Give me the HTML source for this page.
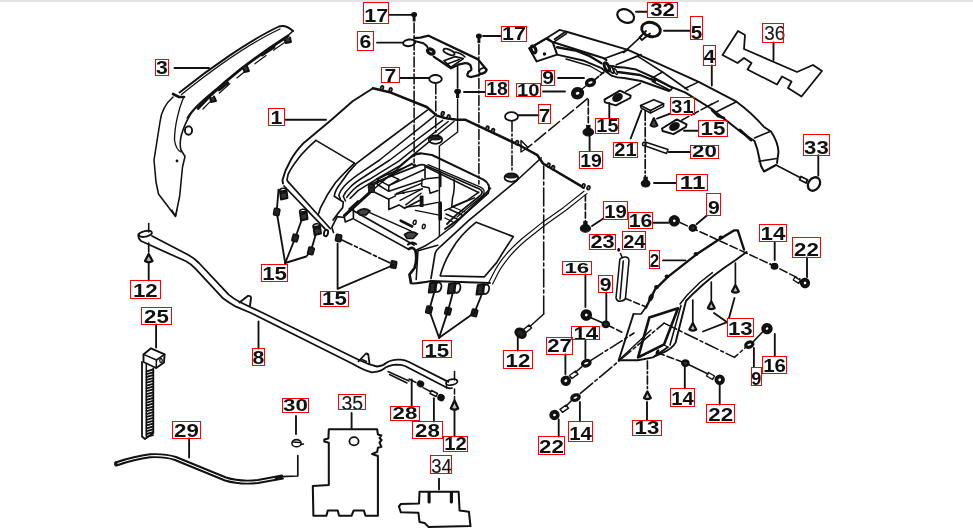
<!DOCTYPE html>
<html lang="en"><head><meta charset="utf-8"><title>Parts diagram</title>
<style>
html,body{margin:0;padding:0;background:#fff;}
body{width:973px;height:529px;overflow:hidden;position:relative;font-family:"Liberation Sans",sans-serif;}
#bar{position:absolute;left:0;top:0;width:973px;height:2px;background:#e4e4e4;}
svg{position:absolute;left:0;top:0;display:block;}
</style></head><body>
<div id="bar"></div>
<svg width="973" height="529" viewBox="0 0 973 529">
<g stroke="#111" fill="none" stroke-linecap="round" stroke-linejoin="round" style="filter:blur(0.45px)">
<path d="M174.5 68.0 L209.0 68.0" stroke-width="1.86" fill="none" />
<path d="M389.5 14.9 L412.0 14.9" stroke-width="1.86" fill="none" />
<path d="M377.0 42.6 L402.5 42.6" stroke-width="1.86" fill="none" />
<path d="M400.0 78.0 L429.0 78.0" stroke-width="1.86" fill="none" />
<path d="M285.5 119.8 L326.0 119.8" stroke-width="1.86" fill="none" />
<path d="M483.0 36.0 L501.0 36.0" stroke-width="1.86" fill="none" />
<path d="M464.0 92.0 L485.0 92.0" stroke-width="1.86" fill="none" />
<path d="M558.0 78.0 L584.0 78.0" stroke-width="1.86" fill="none" />
<path d="M543.0 91.5 L565.0 91.5" stroke-width="1.86" fill="none" />
<path d="M664.0 30.7 L690.0 30.7" stroke-width="1.86" fill="none" />
<path d="M711.8 65.5 L711.8 85.5" stroke-width="1.86" fill="none" />
<path d="M636.0 11.7 L647.0 11.7" stroke-width="1.86" fill="none" />
<path d="M773.5 42.4 L773.5 60.0" stroke-width="1.86" fill="none" />
<path d="M518.5 115.3 L538.5 115.3" stroke-width="1.86" fill="none" />
<path d="M609.3 103.0 L609.3 118.6" stroke-width="1.86" fill="none" />
<path d="M630.7 138.5 L641.4 110.4" stroke-width="1.86" fill="none" />
<path d="M657.0 118.6 L670.2 113.7" stroke-width="1.86" fill="none" />
<path d="M684.0 130.8 L698.0 130.8" stroke-width="1.86" fill="none" />
<path d="M668.6 152.0 L690.0 152.0" stroke-width="1.86" fill="none" />
<path d="M589.6 136.0 L589.6 151.0" stroke-width="1.86" fill="none" />
<path d="M654.0 183.0 L676.0 183.0" stroke-width="1.86" fill="none" />
<path d="M818.3 155.2 L818.3 175.5" stroke-width="1.86" fill="none" />
<path d="M663.0 260.4 L685.5 260.4" stroke-width="1.86" fill="none" />
<path d="M653.5 222.8 L668.5 222.8" stroke-width="1.86" fill="none" />
<path d="M696.5 224.3 L706.8 215.5" stroke-width="1.86" fill="none" />
<path d="M592.0 226.0 L603.4 218.5" stroke-width="1.86" fill="none" />
<path d="M774.7 242.0 L774.7 260.0" stroke-width="1.86" fill="none" />
<path d="M807.0 257.5 L807.0 277.0" stroke-width="1.86" fill="none" />
<path d="M148.7 262.0 L148.7 280.4" stroke-width="1.86" fill="none" />
<path d="M156.1 324.5 L156.1 347.6" stroke-width="1.86" fill="none" />
<path d="M258.5 321.4 L258.5 348.4" stroke-width="1.86" fill="none" />
<path d="M585.4 274.5 L585.4 307.0" stroke-width="1.86" fill="none" />
<path d="M606.3 292.5 L606.3 321.0" stroke-width="1.86" fill="none" />
<path d="M585.4 340.0 L585.4 358.5" stroke-width="1.86" fill="none" />
<path d="M565.4 354.4 L565.4 374.0" stroke-width="1.86" fill="none" />
<path d="M517.8 337.5 L517.8 350.5" stroke-width="1.86" fill="none" />
<path d="M684.8 366.7 L684.8 388.3" stroke-width="1.86" fill="none" />
<path d="M719.7 384.5 L719.7 404.5" stroke-width="1.86" fill="none" />
<path d="M753.9 348.0 L753.9 367.0" stroke-width="1.86" fill="none" />
<path d="M774.8 334.0 L774.8 356.3" stroke-width="1.86" fill="none" />
<path d="M189.1 438.5 L189.1 457.5" stroke-width="1.86" fill="none" />
<path d="M296.0 416.0 L296.0 434.0" stroke-width="1.86" fill="none" />
<path d="M351.6 413.0 L351.6 428.5" stroke-width="1.86" fill="none" />
<path d="M411.7 379.5 L411.7 406.5" stroke-width="1.86" fill="none" />
<path d="M433.9 398.3 L433.9 421.4" stroke-width="1.86" fill="none" />
<path d="M454.5 411.0 L454.5 436.2" stroke-width="1.86" fill="none" />
<path d="M439.0 478.7 L439.0 489.5" stroke-width="1.86" fill="none" />
<path d="M579.9 402.0 L579.9 421.3" stroke-width="1.86" fill="none" />
<path d="M558.7 419.5 L558.7 436.6" stroke-width="1.86" fill="none" />
<path d="M647.0 402.0 L647.0 420.3" stroke-width="1.86" fill="none" />
<path d="M714.0 313.0 L727.2 322.2" stroke-width="1.86" fill="none" />
<path d="M703.0 331.5 L727.2 322.2" stroke-width="1.86" fill="none" />
<path d="M734.5 298.0 L729.0 318.1" stroke-width="1.86" fill="none" />
<path d="M278.5 189.8 L276.7 212.0 L285.2 263.0" stroke-width="1.86" fill="none" />
<path d="M303.5 214.8 L295.2 238.0 L285.2 263.0" stroke-width="1.86" fill="none" />
<path d="M317.4 228.7 L310.9 250.9 L306.3 256.5 L285.2 263.0" stroke-width="1.86" fill="none" />
<path d="M179.5 92.5 C210 68 250 40 279 26.5 Q286 24.5 293 31" stroke-width="1.92" fill="none" />
<path d="M181.5 94.5 C212 70 251 42.5 280 29" stroke-width="1.32" fill="none" />
<path d="M293 31 L288 35.5" stroke-width="1.56" fill="none" />
<path d="M198 108.5 C215 89.5 245 63.5 288 36" stroke-width="2.76" fill="none" />
<path d="M203 109 C220 91 248 67 290 39" stroke-width="1.20" fill="none" stroke-dasharray="14 9"/>
<path d="M284.0 38.5 L286.0 43.0 L291.0 42.0 L290.0 37.5" stroke-width="1.92" fill="#333" />
<path d="M243.0 67.5 L244.5 72.0 L249.0 71.0 L247.0 66.0" stroke-width="1.92" fill="#333" />
<path d="M210.0 97.5 L211.0 102.0 L216.0 101.0 L214.0 96.5" stroke-width="1.92" fill="#333" />
<path d="M262.0 55.0 L274.0 47.0" stroke-width="2.88" fill="none" />
<path d="M219.0 90.0 L228.0 83.0" stroke-width="2.64" fill="none" />
<path d="M173.0 94.0 L179.0 97.0 L184.0 97.0" stroke-width="2.64" fill="none" />
<path d="M173 97 C165 104 161 113 160 122 L154 160 L156 182 L158.5 194 L175.5 216.5 L179.7 196 L182.5 167 L185 156.5 L181 150 C179 143 181 131 190 115 C198 103 212 92 227 81" stroke-width="1.56" fill="none" />
<path d="M183.5 97.5 C179 108 174.5 126 174.5 140 Q176 150 181 152" stroke-width="1.32" fill="none" />
<path d="M187 118 C195 105 210 95 222 86" stroke-width="1.32" fill="none" />
<ellipse cx="188.5" cy="130.5" rx="3.6" ry="4.2" stroke-width="1.92" fill="none"/>
<path d="M172.0 210.0 L175.5 216.0 L177.0 209.5" stroke-width="1.20" fill="none" />
<ellipse cx="177.0" cy="161.0" rx="0.8" ry="0.8" stroke-width="1.20" fill="#222"/>
<path d="M738.0 31.0 L745.0 35.0 L744.0 49.0 L797.0 72.0 L813.0 65.0 L822.0 71.0 L801.5 96.5 L788.0 88.0 L791.5 81.5 L782.0 76.5 L777.0 84.5 L747.5 69.5 L751.5 63.0 L744.0 58.0 L737.5 63.0 L722.5 55.0Z" stroke-width="1.80" fill="none" />
<path d="M529.3 48.4 L536.7 61.4 L557.1 54.6 L552.8 42.3 L546.0 38.6Z" stroke-width="2.04" fill="none" />
<path d="M529.3 48.4 L546.0 38.6 L559.5 29.9 L565.7 31.5 L554.6 39.2" stroke-width="1.80" fill="none" />
<path d="M547.5 38.2 L553.4 42.3 L566.5 33.5" stroke-width="1.56" fill="none" />
<ellipse cx="533.5" cy="49.5" rx="2.2" ry="3.6" stroke-width="3.12" fill="none" transform="rotate(-25.0 533.5 49.5)"/>
<ellipse cx="544.5" cy="54.0" rx="0.8" ry="0.8" stroke-width="1.92" fill="#111"/>
<path d="M565.7 31.5 L628 49.9 L698.7 81.9 L736.5 101.7 Q752 113 764 127 L771 131.5 Q778 142 778.5 152 L777 163" stroke-width="1.92" fill="none" />
<path d="M553.4 42.3 L603.9 58.3 L606.4 60.2" stroke-width="2.16" fill="none" />
<path d="M557.1 47.2 L576.8 50.9 L589.1 55.8 L601.5 63.2" stroke-width="2.40" fill="none" />
<path d="M612 66 Q617 67.5 624 67.5 L636.2 69.6 L654.3 77.8 L669.1 86 L685.5 92.6 L711.8 109 L741.5 132.5 L754.5 141 Q758 150 759 157 L761 166 L764 171.5 L776 165" stroke-width="2.04" fill="none" />
<path d="M637.8 56.4 L662.5 72 L688 90" stroke-width="1.56" fill="none" />
<path d="M557.1 54.6 L584.2 60.8 L601.5 68.2 L611.3 75.6 Q617 78 624 78 L641 81 L669 91" stroke-width="1.92" fill="none" />
<path d="M566 59 L590 66 L603 73.5" stroke-width="1.44" fill="none" />
<path d="M618 72 L640 75 L655 81" stroke-width="2.40" fill="none" />
<path d="M605.2 58.3 L628.0 49.9" stroke-width="1.68" fill="none" />
<path d="M616.3 64.8 L641.0 54.6" stroke-width="1.68" fill="none" />
<path d="M662.5 72.0 L651.0 78.6" stroke-width="1.56" fill="none" />
<path d="M698.7 81.9 L684.7 88.5" stroke-width="1.56" fill="none" />
<path d="M718.4 100.9 L708.6 105.8" stroke-width="1.56" fill="none" />
<path d="M736.5 101.7 L715.1 112.4" stroke-width="1.68" fill="none" />
<path d="M769.5 131.7 L754.5 138.0" stroke-width="1.68" fill="none" />
<path d="M759.0 161.3 L776.7 158.5" stroke-width="1.56" fill="none" />
<ellipse cx="606.8" cy="67.0" rx="2.0" ry="4.6" stroke-width="2.88" fill="none" transform="rotate(-25.0 606.8 67.0)"/>
<ellipse cx="611.5" cy="69.5" rx="1.6" ry="4.0" stroke-width="1.92" fill="none" transform="rotate(-25.0 611.5 69.5)"/>
<ellipse cx="615.5" cy="71.5" rx="1.2" ry="3.2" stroke-width="1.44" fill="none" transform="rotate(-25.0 615.5 71.5)"/>
<path d="M654.3 78.6 L672.4 87.7 L670.5 90.5 L652.5 81.5Z" stroke-width="1.80" fill="none" />
<path d="M740.0 130.0 L751.0 140.0" stroke-width="2.88" fill="none" />
<path d="M712.0 110.0 L718.0 116.0 L724.0 118.0" stroke-width="2.64" fill="none" />
<path d="M776.0 165.0 L800.0 177.5" stroke-width="1.56" fill="none" />
<path d="M801.0 176.5 L807.5 179.8 L806.0 183.0 L799.5 179.8Z" stroke-width="1.80" fill="none" />
<ellipse cx="814.0" cy="184.0" rx="5.6" ry="7.2" stroke-width="2.28" fill="none" transform="rotate(35.0 814.0 184.0)"/>
<ellipse cx="651.0" cy="29.5" rx="9.5" ry="7.0" stroke-width="2.88" fill="none" transform="rotate(15.0 651.0 29.5)"/>
<path d="M646.0 31.0 L639.5 37.5 L642.0 40.0 L650.0 33.5" stroke-width="1.80" fill="none" />
<path d="M641.5 36.0 L623.7 52.7" stroke-width="1.68" fill="none" />
<line x1="604.0" y1="72.0" x2="594.5" y2="80.0" stroke-width="1.68" stroke-dasharray="5 2"/>
<ellipse cx="590.5" cy="82.5" rx="4.0" ry="2.8" stroke-width="3.48" fill="none" transform="rotate(-20.0 590.5 82.5)"/>
<ellipse cx="577.6" cy="93.2" rx="4.3" ry="3.8" stroke-width="4.80" fill="none" transform="rotate(-20.0 577.6 93.2)"/>
<path d="M586.5 85.5 L582.0 89.0" stroke-width="1.56" fill="none" />
<ellipse cx="625.7" cy="16.0" rx="8.8" ry="6.3" stroke-width="2.16" fill="none" transform="rotate(25.0 625.7 16.0)"/>
<ellipse cx="409.2" cy="42.8" rx="6.1" ry="3.3" stroke-width="1.92" fill="none" transform="rotate(-8.0 409.2 42.8)"/>
<path d="M414.3 38.2 L420.4 37.7 L428.6 35.7 L477.6 59.1 L486.7 69.8 Q486 73 480.6 73.9 L477.6 75.4 L471.4 77 Q467 76.5 467.3 74.9 L468.4 71.9 Q471.8 70 471.4 68.8 L470.4 65.2 Q468 63 465.3 63.2 L458.2 64.7 L451 68.3 L442.9 62.7 L433.7 56.6" stroke-width="2.28" fill="none" />
<path d="M415.3 41.3 L423.5 43.3 Q426.5 45 427.6 47.4" stroke-width="1.92" fill="none" />
<ellipse cx="430.8" cy="51.5" rx="3.4" ry="2.3" stroke-width="3.36" fill="none" transform="rotate(25.0 430.8 51.5)"/>
<ellipse cx="482.7" cy="70.9" rx="3.6" ry="2.6" stroke-width="1.68" fill="none" transform="rotate(-25.0 482.7 70.9)"/>
<ellipse cx="449.0" cy="52.0" rx="6.0" ry="2.3" stroke-width="1.80" fill="none" transform="rotate(24.0 449.0 52.0)"/>
<path d="M443.9 60.7 L455.1 56.6 L463.3 58.6 L451.0 67.3Z" stroke-width="1.68" fill="none" />
<path d="M448.0 63.7 L459.2 59.6" stroke-width="1.56" fill="none" />
<path d="M455 52 Q461 53 465 57" stroke-width="1.56" fill="none" />
<ellipse cx="414.1" cy="14.6" rx="1.8" ry="1.4" stroke-width="2.40" fill="#111"/>
<path d="M414.1 15.5 L414.1 21.5" stroke-width="2.88" fill="none" stroke-linecap="butt"/>
<line x1="414.1" y1="23.0" x2="414.1" y2="163.0" stroke-width="1.56" stroke-dasharray="10 2.5 2 2.5"/>
<ellipse cx="414.4" cy="165.5" rx="1.2" ry="0.8" stroke-width="1.20" fill="#222"/>
<ellipse cx="478.9" cy="36.0" rx="1.8" ry="1.4" stroke-width="2.40" fill="#111"/>
<path d="M478.9 37.0 L478.9 43.0" stroke-width="2.88" fill="none" stroke-linecap="butt"/>
<line x1="478.9" y1="44.5" x2="478.9" y2="184.0" stroke-width="1.56" stroke-dasharray="10 2.5 2 2.5"/>
<ellipse cx="435.5" cy="79.0" rx="6.3" ry="4.0" stroke-width="1.80" fill="none"/>
<line x1="435.8" y1="84.0" x2="435.8" y2="135.0" stroke-width="1.56" stroke-dasharray="10 2.5 2 2.5"/>
<path d="M457.6 66.5 L457.6 88.0" stroke-width="1.68" fill="none" />
<ellipse cx="457.6" cy="91.5" rx="2.2" ry="1.6" stroke-width="2.40" fill="#111"/>
<path d="M457.6 93.0 L457.6 98.0" stroke-width="3.12" fill="none" stroke-linecap="butt"/>
<path d="M457.6 99.0 L457.6 132.0 L439.4 146.0 L439.4 236.0" stroke-width="1.44" fill="none" />
<ellipse cx="511.5" cy="116.5" rx="6.5" ry="4.3" stroke-width="1.80" fill="none"/>
<line x1="512.0" y1="121.5" x2="512.0" y2="172.0" stroke-width="1.56" stroke-dasharray="10 2.5 2 2.5"/>
<path d="M604.4 99.7 L620.0 90.6 L630.7 95.6 L630.2 98.0 L615.9 105.4 L605.0 102.3Z" stroke-width="1.92" fill="none" />
<ellipse cx="617.5" cy="97.5" rx="4.2" ry="2.5" stroke-width="2.88" fill="#111" transform="rotate(-28.0 617.5 97.5)"/>
<path d="M625.8 91.4 L640.6 83.2" stroke-width="1.56" fill="none" />
<path d="M662.0 128.5 L676.8 119.4 L686.6 124.3 L686.0 126.8 L673.5 134.2 L662.6 131.0Z" stroke-width="1.92" fill="none" />
<ellipse cx="674.5" cy="126.5" rx="4.2" ry="2.5" stroke-width="2.88" fill="#111" transform="rotate(-28.0 674.5 126.5)"/>
<line x1="681.7" y1="120.2" x2="712.0" y2="104.0" stroke-width="1.56" stroke-dasharray="8 3"/>
<path d="M640.6 105.4 L653.8 99.7 L663.6 103.8 L650.5 110.4Z" stroke-width="1.68" fill="none" />
<path d="M640.6 105.4 L641.0 108.0 L650.5 113.0 L650.5 110.4" stroke-width="1.44" fill="none" />
<path d="M650.5 113.0 L663.6 106.3 L663.6 103.8" stroke-width="1.44" fill="none" />
<line x1="645.2" y1="111.5" x2="645.2" y2="177.0" stroke-width="1.68" stroke-dasharray="9 2.5 2 2.5"/>
<path d="M653.8 118 L650.5 125.5 Q654 128 657.5 125.5 Z" stroke-width="1.92" fill="#444" />
<ellipse cx="644.3" cy="144.0" rx="1.8" ry="1.8" stroke-width="1.44" fill="none"/>
<path d="M646.0 142.3 L668.0 149.5 L666.5 153.5 L645.5 146.0" stroke-width="1.44" fill="none" />
<ellipse cx="645.6" cy="183.6" rx="4.3" ry="3.4" stroke-width="1.20" fill="#111"/>
<rect x="643.4" y="176.7" width="4.4" height="6" fill="#111" stroke="none"/>
<line x1="588.3" y1="99.6" x2="588.3" y2="125.0" stroke-width="1.68" stroke-dasharray="6 2.5"/>
<ellipse cx="588.3" cy="132.2" rx="5.2" ry="3.8" stroke-width="1.20" fill="#111"/>
<rect x="586.1" y="124.9" width="4.4" height="6" fill="#111" stroke="none"/>
<line x1="587.4" y1="98.7" x2="527.0" y2="148.2" stroke-width="1.56" stroke-dasharray="14 4"/>
<path d="M521.0 140.5 L521.0 152.0 L528.0 147.5Z" stroke-width="1.44" fill="none" />
<line x1="585.4" y1="195.0" x2="585.4" y2="221.0" stroke-width="1.68" stroke-dasharray="6 2.5"/>
<ellipse cx="585.4" cy="228.4" rx="5.0" ry="3.8" stroke-width="1.20" fill="#111"/>
<rect x="583.2" y="221.1" width="4.4" height="6" fill="#111" stroke="none"/>
<path d="M645.9 307.6 L648.6 302.2 L654.9 289.7 L667.5 277.1 L696.2 254.6 L717.8 240.3 L733.9 230.4 L737.8 230.4 L744 249.5" stroke-width="2.40" fill="none" />
<path d="M746.5 251.9 L735.7 260 L725 267.2 L714.2 275.3 L703.4 284.3 L692.6 294.2 L686 301 L675.6 342.6 Q672 349 662 353.2 L655 356" stroke-width="1.92" fill="none" />
<path d="M681 305.5 L670 345" stroke-width="1.56" fill="none" />
<path d="M712.4 272.6 L699.8 282.5 L687.2 295 L680 304" stroke-width="1.44" fill="none" />
<path d="M633.5 314.0 L618.7 360.2 L638.0 360.2 L653.0 357.4 L667.8 347.2" stroke-width="1.92" fill="none" />
<path d="M633.5 314.0 L641.0 314.0 L646.5 306.5" stroke-width="1.68" fill="none" />
<path d="M649.3 317.6 L678.0 308.3 L664.1 344.4 L638.1 357.4Z" stroke-width="2.64" fill="none" />
<path d="M618.7 360.2 L651.0 330.0" stroke-width="1.44" fill="none" />
<path d="M640.0 357.0 L664.0 345.0 L668.0 347.0" stroke-width="1.32" fill="none" />
<ellipse cx="657.5" cy="352.0" rx="0.8" ry="2.0" stroke-width="1.68" fill="none" transform="rotate(30.0 657.5 352.0)"/>
<ellipse cx="656.5" cy="287.0" rx="1.6" ry="1.2" stroke-width="1.68" fill="#111"/>
<ellipse cx="667.0" cy="276.5" rx="1.6" ry="1.2" stroke-width="1.68" fill="#111"/>
<ellipse cx="696.0" cy="254.0" rx="1.6" ry="1.2" stroke-width="1.68" fill="#111"/>
<ellipse cx="721.0" cy="237.5" rx="1.6" ry="1.2" stroke-width="1.68" fill="#111"/>
<ellipse cx="651.0" cy="297.5" rx="1.6" ry="3.0" stroke-width="1.56" fill="none" transform="rotate(25.0 651.0 297.5)"/>
<path d="M620.5 253.5 L622.5 258 M619.8 259.5 L616 298 Q617 302 621 301 Q625 300.5 625.5 298 L629 260.5 Q628.5 256.5 624.5 257 Q620.5 257.5 619.8 259.5 M623.3 261 L620 299" stroke-width="1.56" fill="none" />
<ellipse cx="618.7" cy="249.8" rx="0.9" ry="1.3" stroke-width="1.20" fill="#111"/>
<line x1="625.5" y1="298.5" x2="645.5" y2="306.7" stroke-width="1.56" stroke-dasharray="6 3"/>
<path d="M711.3 282.0 L711.3 301.0" stroke-width="1.68" fill="none" />
<path d="M711.3 301.5 L707.9 308.0 Q711.3 310.2 714.7 308.0 Z" stroke-width="2.28" fill="#bbb" />
<path d="M735.4 263.0 L735.4 284.0" stroke-width="1.68" fill="none" />
<path d="M735.4 285.0 L732.0 291.5 Q735.4 293.7 738.8 291.5 Z" stroke-width="2.28" fill="#bbb" />
<path d="M692.8 300.0 L692.8 322.0" stroke-width="1.68" fill="none" />
<path d="M692.8 323.0 L689.4 329.5 Q692.8 331.7 696.2 329.5 Z" stroke-width="2.28" fill="#bbb" />
<line x1="647.4" y1="361.0" x2="647.4" y2="391.0" stroke-width="1.68" stroke-dasharray="8 2.5 2 2.5"/>
<path d="M647.4 391.5 L644.0 398.0 Q647.4 400.2 650.8 398.0 Z" stroke-width="2.28" fill="#bbb" />
<line x1="680.0" y1="222.5" x2="770.0" y2="264.0" stroke-width="1.56" stroke-dasharray="8 3"/>
<ellipse cx="674.3" cy="220.8" rx="3.5" ry="3.5" stroke-width="4.40" fill="none" transform="rotate(-20.0 674.3 220.8)"/>
<ellipse cx="692.8" cy="228.0" rx="3.0" ry="2.6" stroke-width="2.64" fill="#333"/>
<ellipse cx="774.5" cy="266.3" rx="2.6" ry="2.2" stroke-width="2.64" fill="#333"/>
<line x1="770.0" y1="264.0" x2="800.0" y2="279.0" stroke-width="1.56" stroke-dasharray="8 3"/>
<path d="M795.0 277.0 L800.5 280.3 L798.8 283.3 L793.3 280.0Z" stroke-width="1.44" fill="none" />
<ellipse cx="805.0" cy="283.0" rx="3.2" ry="3.3" stroke-width="3.80" fill="none" transform="rotate(-20.0 805.0 283.0)"/>
<line x1="580.4" y1="393.4" x2="664.1" y2="323.1" stroke-width="1.56" stroke-dasharray="16 3 3 3"/>
<path d="M664.1 323.1 L734.4 357.4 L745.5 347.5" stroke-width="1.56" fill="none" stroke-dasharray="14 3 3 3"/>
<ellipse cx="749.3" cy="344.6" rx="3.7" ry="2.5" stroke-width="3.20" fill="none" transform="rotate(-20.0 749.3 344.6)"/>
<path d="M753.0 342.0 L762.5 332.0" stroke-width="1.68" fill="none" />
<ellipse cx="767.0" cy="328.6" rx="3.5" ry="3.5" stroke-width="4.40" fill="none" transform="rotate(-20.0 767.0 328.6)"/>
<line x1="657.6" y1="352.8" x2="683.0" y2="362.2" stroke-width="1.56" stroke-dasharray="7 3"/>
<ellipse cx="685.4" cy="363.2" rx="3.0" ry="2.6" stroke-width="2.64" fill="#333"/>
<path d="M688.5 364.5 L708.0 374.0" stroke-width="1.56" fill="none" />
<path d="M708.5 372.5 L714.5 376.0 L712.5 379.5 L706.5 376.0Z" stroke-width="1.44" fill="none" />
<ellipse cx="719.7" cy="379.8" rx="3.3" ry="3.3" stroke-width="3.80" fill="none" transform="rotate(-20.0 719.7 379.8)"/>
<ellipse cx="586.3" cy="315.0" rx="3.6" ry="3.6" stroke-width="4.40" fill="none" transform="rotate(-20.0 586.3 315.0)"/>
<path d="M591.0 317.8 L603.0 323.0" stroke-width="1.68" fill="none" />
<ellipse cx="605.8" cy="324.3" rx="3.0" ry="2.6" stroke-width="2.64" fill="#333"/>
<line x1="608.5" y1="325.5" x2="623.5" y2="333.0" stroke-width="1.56" stroke-dasharray="6 3"/>
<ellipse cx="586.3" cy="363.2" rx="3.9" ry="2.6" stroke-width="3.30" fill="none" transform="rotate(-20.0 586.3 363.2)"/>
<path d="M581.7 366.9 L575.2 372.5" stroke-width="1.56" fill="none" />
<path d="M575.5 371.0 L578.0 374.2 L572.0 378.5 L569.5 375.5Z" stroke-width="1.44" fill="none" />
<ellipse cx="565.8" cy="380.8" rx="3.4" ry="3.3" stroke-width="3.80" fill="none" transform="rotate(-20.0 565.8 380.8)"/>
<line x1="590.9" y1="360.4" x2="634.0" y2="333.0" stroke-width="1.56" stroke-dasharray="14 3 3 3"/>
<ellipse cx="575.5" cy="397.6" rx="3.8" ry="2.6" stroke-width="3.30" fill="none" transform="rotate(-20.0 575.5 397.6)"/>
<path d="M571.5 400.5 L565.6 406.5" stroke-width="1.56" fill="none" />
<path d="M566.0 405.0 L568.5 408.2 L562.5 412.3 L560.0 409.3Z" stroke-width="1.44" fill="none" />
<ellipse cx="554.5" cy="415.0" rx="3.3" ry="3.2" stroke-width="3.80" fill="none" transform="rotate(-20.0 554.5 415.0)"/>
<ellipse cx="520.6" cy="333.2" rx="5.0" ry="3.8" stroke-width="3.00" fill="#222" transform="rotate(35.0 520.6 333.2)"/>
<path d="M523.5 329.5 L529.0 325.0 L531.5 328.0 L526.0 332.5" stroke-width="1.56" fill="none" />
<path d="M530.5 326.0 L543.7 314.0" stroke-width="1.56" fill="none" />
<line x1="543.7" y1="314.0" x2="543.7" y2="166.0" stroke-width="1.56" stroke-dasharray="18 3 3 3"/>
<ellipse cx="145.4" cy="233.8" rx="6.6" ry="2.8" stroke-width="1.80" fill="none" transform="rotate(-12.0 145.4 233.8)"/>
<path d="M148.7 223.5 L148.7 232.0" stroke-width="1.56" fill="none" />
<path d="M152 236 L188 254.8 Q194 258 199 263 L228.7 294.6 Q234 299 239.8 302 L263 313 L358 359.5 Q368 364.5 377 366.5 Q383 366 386 363 Q392 359 400.7 359.7 Q405 360 409 362 L448.4 381.9" stroke-width="1.80" fill="none" />
<path d="M138.5 234 Q137.5 238 141 241 L186 261.3 Q191 264 195.4 268.7 L223 298.3 Q229 303 236 306.7 L251 313 L353 364 Q364 370.5 372 372.3 Q379 372 383.5 369 Q388 365.5 396 364.7 Q401 364.7 405 366 L445 386.8 Q449 389 452 388" stroke-width="1.80" fill="none" />
<ellipse cx="451.7" cy="382.2" rx="5.8" ry="2.8" stroke-width="1.80" fill="none" transform="rotate(-12.0 451.7 382.2)"/>
<path d="M454.5 371.5 L454.5 380.0" stroke-width="1.56" fill="none" />
<path d="M446.5 384.5 L446.5 388.0" stroke-width="1.44" fill="none" />
<path d="M239.4 302.5 L247.8 296 Q251 295.5 251 298 L250 305.5" stroke-width="1.92" fill="none" />
<path d="M358.5 361.3 L366 353.5 Q368.5 353.5 368.5 356 L369.5 364" stroke-width="1.80" fill="none" />
<path d="M362.0 359.5 L366.5 361.5" stroke-width="1.44" fill="none" />
<path d="M148.7 243.0 L148.7 252.0" stroke-width="1.68" fill="none" />
<path d="M148.7 254 L145 261 Q148.7 263.5 152.5 261 Z" stroke-width="2.28" fill="#bbb" />
<path d="M388.0 371.5 L409.0 381.0" stroke-width="1.44" fill="none" />
<path d="M389.5 374.5 L407.0 383.0" stroke-width="1.44" fill="none" />
<path d="M409.0 379.0 L416.0 382.5" stroke-width="1.44" fill="none" />
<ellipse cx="420.5" cy="383.8" rx="2.6" ry="2.2" stroke-width="2.40" fill="#111" transform="rotate(25.0 420.5 383.8)"/>
<path d="M423.0 387.6 L430.5 391.5" stroke-width="1.44" fill="none" />
<path d="M431.5 390.5 L437.5 393.5 L436.0 396.5 L430.0 393.5Z" stroke-width="1.44" fill="none" />
<ellipse cx="441.0" cy="397.6" rx="2.6" ry="2.4" stroke-width="2.40" fill="#111" transform="rotate(25.0 441.0 397.6)"/>
<line x1="454.5" y1="389.0" x2="454.5" y2="400.0" stroke-width="1.56" stroke-dasharray="5 2.5"/>
<path d="M454.5 400.5 L450.8 408.5 Q454.5 411 458.2 408.5 Z" stroke-width="2.28" fill="#bbb" />
<path d="M143.5 354.4 L151.0 348.3 L164.6 354.4 L164.0 362.5 L156.1 368.0 L143.5 362.0Z" stroke-width="1.92" fill="none" />
<path d="M143.5 354.4 L156.5 360.0 L164.6 354.4" stroke-width="1.56" fill="none" />
<path d="M156.5 360.0 L156.1 368.0" stroke-width="1.56" fill="none" />
<ellipse cx="161.0" cy="360.5" rx="1.3" ry="2.0" stroke-width="1.32" fill="none"/>
<path d="M142.0 362.0 L142.0 436.5 L145.0 439.0 L153.3 433.0 L153.3 368.5" stroke-width="1.80" fill="none" />
<path d="M146.3 364.0 L146.3 436.0" stroke-width="1.56" fill="none" />
<path d="M146.6 371.3 L153.0 369.5" stroke-width="1.86" fill="none" />
<path d="M146.6 374.2 L153.0 372.4" stroke-width="1.86" fill="none" />
<path d="M146.6 377.0 L153.0 375.2" stroke-width="1.86" fill="none" />
<path d="M146.6 379.9 L153.0 378.1" stroke-width="1.86" fill="none" />
<path d="M146.6 382.7 L153.0 380.9" stroke-width="1.86" fill="none" />
<path d="M146.6 385.6 L153.0 383.8" stroke-width="1.86" fill="none" />
<path d="M146.6 388.4 L153.0 386.6" stroke-width="1.86" fill="none" />
<path d="M146.6 391.2 L153.0 389.4" stroke-width="1.86" fill="none" />
<path d="M146.6 394.1 L153.0 392.3" stroke-width="1.86" fill="none" />
<path d="M146.6 396.9 L153.0 395.1" stroke-width="1.86" fill="none" />
<path d="M146.6 399.8 L153.0 398.0" stroke-width="1.86" fill="none" />
<path d="M146.6 402.7 L153.0 400.9" stroke-width="1.86" fill="none" />
<path d="M146.6 405.5 L153.0 403.7" stroke-width="1.86" fill="none" />
<path d="M146.6 408.4 L153.0 406.6" stroke-width="1.86" fill="none" />
<path d="M146.6 411.2 L153.0 409.4" stroke-width="1.86" fill="none" />
<path d="M146.6 414.1 L153.0 412.2" stroke-width="1.86" fill="none" />
<path d="M146.6 416.9 L153.0 415.1" stroke-width="1.86" fill="none" />
<path d="M146.6 419.8 L153.0 417.9" stroke-width="1.86" fill="none" />
<path d="M146.6 422.6 L153.0 420.8" stroke-width="1.86" fill="none" />
<path d="M146.6 425.4 L153.0 423.6" stroke-width="1.86" fill="none" />
<path d="M146.6 428.3 L153.0 426.5" stroke-width="1.86" fill="none" />
<path d="M146.6 431.2 L153.0 429.4" stroke-width="1.86" fill="none" />
<path d="M146.6 434.0 L153.0 432.2" stroke-width="1.86" fill="none" />
<path d="M146.6 436.9 L153.0 435.1" stroke-width="1.86" fill="none" />
<path d="M115.6 462.5 Q135 456 150 454.3 Q165 453.5 176 457 L226 477.5 Q240 482 258 480 L282 475.5" stroke-width="1.92" fill="none" />
<path d="M116.5 465.5 Q135 459 150 457.3 Q165 456.5 175 460 L225 480.5 Q240 485 258 483 L283 478.5" stroke-width="1.92" fill="none" />
<ellipse cx="115.8" cy="464.0" rx="1.0" ry="1.6" stroke-width="1.56" fill="#222"/>
<path d="M281.0 476.6 L297.8 476.0 L297.8 455.5" stroke-width="1.68" fill="none" />
<path d="M276.0 478.2 L281.5 477.0" stroke-width="2.64" fill="none" />
<ellipse cx="296.5" cy="443.2" rx="4.6" ry="3.6" stroke-width="1.56" fill="none"/>
<path d="M292.5 442.0 L300.5 442.5" stroke-width="1.32" fill="none" />
<path d="M300.8 444.5 L303.5 444.0" stroke-width="1.32" fill="none" />
<path d="M328.8 429.3 L377.2 429.3 L377.9 434.4 L381.4 435.4 L379.5 438.0 L381.6 440.0 L379.5 442.5 L381.4 446.8 L377.9 447.8 L377.2 451.9 L372.1 454.0 L377.9 456.0 L377.9 515.8 L365.5 515.8 L363.9 510.6 L353.6 510.6 L351.5 515.8 L339.1 515.8 L337.7 510.6 L327.8 510.6 L326.4 515.8 L313.4 515.8 L312.8 485.9 L328.8 484.9 L328.8 442.7 L324.3 441.6 L324.3 439.6 L328.4 438.5Z" stroke-width="2.04" fill="none" />
<ellipse cx="354.0" cy="441.2" rx="4.6" ry="4.1" stroke-width="1.80" fill="none"/>
<path d="M419.5 491.7 L458.6 491.7 L459.6 510.6 L468.9 511.7 L470.5 526.1 L428.7 527.1 L424.6 523.0 L419.5 522.0 L418.4 512.7 L400.9 512.3 L398.9 506.5 L400.9 504.0 L419.0 503.4Z" stroke-width="2.04" fill="none" />
<path d="M429.1 492.5 L429.1 502.0" stroke-width="3.12" fill="none" />
<path d="M451.4 492.5 L451.4 502.0" stroke-width="3.12" fill="none" />
<path d="M373 88.3 L352.6 101.3 L331.2 120 L304 142.7 Q295 152 290.4 160.8 Q285 170 282.5 180 L283 183.5" stroke-width="1.92" fill="none" />
<path d="M315.9 140.4 Q305 150 298.3 158.5 Q291 168 288.1 174.4 L287 180 L288.5 182.5" stroke-width="1.68" fill="none" />
<path d="M284.0 186.0 L324.8 228.7" stroke-width="1.80" fill="none" />
<path d="M288.7 182.4 L330.4 228.7" stroke-width="1.68" fill="none" />
<path d="M373 88.3 L389.6 92.2 L426.7 107 L436.9 115.6 L445 118 L456.6 119.7 L465 119.7 L518.9 145 L537.4 155.2 L543 163.5 L583.7 187.6" stroke-width="2.52" fill="none" />
<ellipse cx="382.0" cy="87.8" rx="1.4" ry="2.0" stroke-width="1.56" fill="#888" transform="rotate(20.0 382.0 87.8)"/>
<ellipse cx="390.5" cy="89.9" rx="1.4" ry="2.0" stroke-width="1.56" fill="#888" transform="rotate(20.0 390.5 89.9)"/>
<ellipse cx="442.7" cy="113.6" rx="1.4" ry="2.0" stroke-width="1.56" fill="#888" transform="rotate(20.0 442.7 113.6)"/>
<ellipse cx="448.5" cy="116.9" rx="1.4" ry="2.0" stroke-width="1.56" fill="#888" transform="rotate(20.0 448.5 116.9)"/>
<ellipse cx="487.4" cy="128.1" rx="1.4" ry="2.0" stroke-width="1.56" fill="#888" transform="rotate(20.0 487.4 128.1)"/>
<ellipse cx="493.0" cy="130.6" rx="1.4" ry="2.0" stroke-width="1.56" fill="#888" transform="rotate(20.0 493.0 130.6)"/>
<ellipse cx="517.0" cy="142.6" rx="1.4" ry="2.0" stroke-width="1.56" fill="#888" transform="rotate(20.0 517.0 142.6)"/>
<ellipse cx="548.5" cy="165.1" rx="1.4" ry="2.0" stroke-width="1.56" fill="#888" transform="rotate(20.0 548.5 165.1)"/>
<ellipse cx="553.0" cy="167.6" rx="1.4" ry="2.0" stroke-width="1.56" fill="#888" transform="rotate(20.0 553.0 167.6)"/>
<ellipse cx="583.5" cy="185.8" rx="1.4" ry="2.0" stroke-width="1.56" fill="#888" transform="rotate(20.0 583.5 185.8)"/>
<ellipse cx="588.5" cy="187.8" rx="1.4" ry="2.0" stroke-width="1.56" fill="#888" transform="rotate(20.0 588.5 187.8)"/>
<path d="M315.9 140.4 L354.5 163.1 Q346 171 335.4 182.7 Q327 194 320.6 207.6 L318.3 214.4" stroke-width="1.68" fill="none" />
<path d="M427.3 110.2 L380 145.5 L356.2 163.6 Q348 172 341 182.7 Q335 190 334.2 196.3 L343.3 202 L342.7 207.6 Q338 213 333.1 220" stroke-width="1.68" fill="none" />
<path d="M434.6 115.9 L379.6 160 L358 174.7 Q348 182 344.4 186.1 Q340 191 338.8 195.1 L340.5 199.5" stroke-width="1.56" fill="none" />
<path d="M442.6 120.4 L389.8 160 L363.7 177 Q354 183 350.1 187.2 Q345 192 343.3 196.3 L345.5 201" stroke-width="1.56" fill="none" />
<path d="M448.2 121.5 L398.8 161.1 L369.4 179.3 Q358 185 353.5 189.5 Q349 194 346.7 197.4" stroke-width="1.56" fill="none" />
<path d="M453.9 121.5 L400 165.7 L376.2 179.3 L358 190.6 L350.1 198.5" stroke-width="1.56" fill="none" />
<path d="M412 163.5 L400 170.2 L377.3 182.7 L368.2 187.2" stroke-width="1.56" fill="none" />
<path d="M333.5 232.5 L331.8 227.3 L337.2 216.6 L344.4 217.5 L345.3 221.9 L353.4 218.4 L353.4 209.4" stroke-width="1.68" fill="none" />
<path d="M369.4 192.9 L344.4 215.6" stroke-width="3.12" fill="none" />
<path d="M358.0 200.8 L349.0 209.0" stroke-width="1.56" fill="none" />
<ellipse cx="435.4" cy="139.6" rx="6.8" ry="4.2" stroke-width="1.80" fill="none"/>
<path d="M429 138.5 Q435.4 133.5 441.8 138.5 Q435.4 141.5 429 138.5Z" stroke-width="1.20" fill="#222" />
<ellipse cx="511.3" cy="177.6" rx="6.8" ry="4.2" stroke-width="1.80" fill="none"/>
<path d="M504.8 176.5 Q511.3 171.5 517.8 176.5 Q511.3 179.5 504.8 176.5Z" stroke-width="1.20" fill="#222" />
<path d="M369.4 192.9 L412 156.5" stroke-width="1.44" fill="none" />
<path d="M412 156.5 Q416 153.2 422 153.4 L432 155 L483.4 179.7 Q491.5 184 488 193.3 L458.5 219.4 L445 229" stroke-width="2.04" fill="none" />
<path d="M369.5 184.5 L419 165.2 Q422 163.8 425.6 165.5 L478.9 188.8 Q484 191 481 195 L456.2 214.9 L447 224" stroke-width="1.80" fill="none" />
<path d="M428 164.6 L480.5 187.2 Q486.3 190 483 195.5 L457 217" stroke-width="1.32" fill="none" />
<path d="M353 210.5 L414 245" stroke-width="1.80" fill="none" />
<path d="M354.4 219.4 L408.1 249" stroke-width="1.56" fill="none" />
<path d="M368.6 212.1 L410.8 230.9" stroke-width="1.56" fill="none" />
<path d="M425.0 166.5 L425.0 177.5" stroke-width="1.68" fill="none" />
<path d="M426.2 167.0 L478.5 192.5" stroke-width="1.44" fill="none" />
<rect x="369" y="184.3" width="5.4" height="8.2" fill="#222" stroke-width="1"/>
<path d="M377.4 179.4 L387.6 174.3 L399.0 179.4 L388.8 185.6Z" stroke-width="1.56" fill="none" />
<path d="M377.4 179.4 L377.4 184.5 L388.8 191.3 L388.8 185.6" stroke-width="1.56" fill="none" />
<path d="M387.6 174.3 L412.6 164.1" stroke-width="1.56" fill="none" />
<path d="M388.8 185.6 L423.9 169.7" stroke-width="1.56" fill="none" />
<path d="M388.8 191.3 L426.2 178.8 L438.6 177.5" stroke-width="1.56" fill="none" />
<path d="M396.7 193.5 L421.6 183.3" stroke-width="1.44" fill="none" />
<path d="M375.1 192.4 L388.8 199.2 L388.8 209.4 L399.0 204.9 L404.6 208.3 L419.4 200.4" stroke-width="1.68" fill="none" />
<path d="M388.8 199.2 L395.6 195.8" stroke-width="1.44" fill="none" />
<path d="M400.1 200.4 L422.2 188.8" stroke-width="1.44" fill="none" />
<path d="M395.0 194.5 L422.2 188.8" stroke-width="1.32" fill="none" />
<path d="M405.8 204.9 L421.1 193.3" stroke-width="1.44" fill="none" />
<path d="M422.2 186.5 L429.0 187.7 L430.1 193.3 L438.0 190.5" stroke-width="1.56" fill="none" />
<path d="M421.6 185.6 L422.2 178.6" stroke-width="1.44" fill="none" />
<path d="M406.3 207.0 L425.6 204.7 L438.1 202.4" stroke-width="1.44" fill="none" />
<path d="M415.4 210.4 L438.1 214.9" stroke-width="1.44" fill="none" />
<ellipse cx="403.5" cy="192.8" rx="0.7" ry="0.7" stroke-width="1.20" fill="#222"/>
<path d="M421.6 195.6 L421.6 207.0" stroke-width="3.84" fill="none" stroke-linecap="butt"/>
<path d="M440.2 172.0 L440.2 186.0" stroke-width="2.64" fill="none" />
<path d="M440.2 203.0 L440.2 219.0" stroke-width="3.60" fill="none" />
<path d="M454 179.7 Q455 190 452.5 198 L451.7 207 L467.6 200.1 L478.9 192.2" stroke-width="1.56" fill="none" />
<path d="M444.9 210.4 L474.4 197.9" stroke-width="1.56" fill="none" />
<path d="M446.0 214.0 L457.0 219.0" stroke-width="1.44" fill="none" />
<path d="M449.0 209.0 L462.0 215.0" stroke-width="1.44" fill="none" />
<path d="M453.0 207.0 L466.0 212.5" stroke-width="1.32" fill="none" />
<path d="M445.0 218.0 L453.0 222.0" stroke-width="1.32" fill="none" />
<path d="M400.7 220.7 L412.2 226.5" stroke-width="2.64" fill="none" />
<ellipse cx="414.7" cy="222.4" rx="1.4" ry="2.2" stroke-width="1.44" fill="none" transform="rotate(15.0 414.7 222.4)"/>
<ellipse cx="423.8" cy="226.5" rx="1.4" ry="2.2" stroke-width="1.44" fill="none" transform="rotate(15.0 423.8 226.5)"/>
<path d="M357.5 211.5 Q363.7 206.5 370 211 L366 215 L360 215 Z" stroke-width="1.68" fill="#444" />
<path d="M404.5 234.5 Q411 229.5 417.5 234 L413 238.5 L407 238.5 Z" stroke-width="1.68" fill="#444" />
<path d="M584 191.2 L563.6 207.4 L543 221.9 L522.5 238.2 Q510.6 248.6 505.5 255.1 Q498.3 264 495.2 270 L489 282" stroke-width="1.20" fill="none" />
<path d="M586.9 193.6 L566 210.2 L545.5 224.7 L524.8 241.2 Q513.4 251.4 508.5 257.9 Q501.7 266.4 498.4 272.4 L492.6 284" stroke-width="1.20" fill="none" />
<path d="M541.1 158 L517.4 180 L468 221.2 L441.2 245.9 Q436 250 435 254 L431 278.5" stroke-width="1.68" fill="none" />
<path d="M490.6 188.2 L453.6 225.3 L445 232 Q436 240 425 246 L416.5 250" stroke-width="1.56" fill="none" />
<path d="M476.2 222.2 L513.3 236.6 Q503 252 496.8 262.4 L484.4 276.8 L440.2 275.8 Q444 262 451.5 250 Q460 235 476.2 222.2Z" stroke-width="1.68" fill="none" />
<path d="M409 249 Q413 246 415.5 251 Q417.5 260 414.5 268 L409.5 274.5 L411 283" stroke-width="2.76" fill="none" />
<path d="M408 244.5 Q412 241 416 244" stroke-width="2.16" fill="none" />
<path d="M418 250.7 L437.8 245.3" stroke-width="1.56" fill="none" />
<path d="M418 250.7 L416.2 279.4" stroke-width="1.56" fill="none" />
<path d="M412.6 283.5 Q420 283 431 281 L490 283" stroke-width="1.80" fill="none" />
<path d="M430.1 283.2 L436.5 282.2 L435.3 291.9 L428.8 292.5 Z" stroke-width="2.04" fill="#2a2a2a" />
<ellipse cx="438.1" cy="287.2" rx="3.2" ry="4.8" stroke-width="1.80" fill="none" transform="rotate(15.0 438.1 287.2)"/>
<path d="M449.1 284.1 L455.5 283.1 L454.3 292.8 L447.8 293.4 Z" stroke-width="2.04" fill="#2a2a2a" />
<ellipse cx="457.1" cy="288.1" rx="3.2" ry="4.8" stroke-width="1.80" fill="none" transform="rotate(15.0 457.1 288.1)"/>
<path d="M477.8 285.3 L484.2 284.3 L483.0 294.0 L476.5 294.6 Z" stroke-width="2.04" fill="#2a2a2a" />
<ellipse cx="485.8" cy="289.3" rx="3.2" ry="4.8" stroke-width="1.80" fill="none" transform="rotate(15.0 485.8 289.3)"/>
<rect x="426.2" y="306.4" width="5.6" height="7" rx="1" fill="#222" stroke-width="1.5" transform="rotate(15 429.0 309.9)"/>
<rect x="445.2" y="307.7" width="5.6" height="7" rx="1" fill="#222" stroke-width="1.5" transform="rotate(15 448.0 311.2)"/>
<rect x="471.6" y="309.3" width="5.6" height="7" rx="1" fill="#222" stroke-width="1.5" transform="rotate(15 474.4 312.8)"/>
<path d="M434.0 293.0 L429.2 310.2 L439.1 337.7" stroke-width="1.86" fill="none" />
<path d="M452.5 294.0 L447.8 311.4 L439.1 337.7" stroke-width="1.86" fill="none" />
<path d="M481.5 295.0 L474.4 312.8 L439.1 337.7" stroke-width="1.86" fill="none" />
<rect x="273.9" y="208.5" width="5.6" height="7" rx="1" fill="#222" stroke-width="1.5" transform="rotate(10 276.7 212.0)"/>
<rect x="292.4" y="234.5" width="5.6" height="7" rx="1" fill="#222" stroke-width="1.5" transform="rotate(15 295.2 238.0)"/>
<rect x="308.1" y="247.4" width="5.6" height="7" rx="1" fill="#222" stroke-width="1.5" transform="rotate(15 310.9 250.9)"/>
<path d="M280.0 191.5 L286.5 190.5 L287.5 198.0 L281.0 199.5 Z" stroke-width="1.92" fill="#333" />
<ellipse cx="283.0" cy="190.7" rx="3.4" ry="2.4" stroke-width="1.56" fill="none" transform="rotate(-10.0 283.0 190.7)"/>
<path d="M300.0 212.5 L306.5 211.5 L307.5 219.0 L301.0 220.5 Z" stroke-width="1.92" fill="#333" />
<ellipse cx="303.0" cy="211.7" rx="3.4" ry="2.4" stroke-width="1.56" fill="none" transform="rotate(-10.0 303.0 211.7)"/>
<path d="M313.5 227.0 L320.0 226.0 L321.0 233.5 L314.5 235.0 Z" stroke-width="1.92" fill="#333" />
<ellipse cx="316.5" cy="226.2" rx="3.4" ry="2.4" stroke-width="1.56" fill="none" transform="rotate(-10.0 316.5 226.2)"/>
<ellipse cx="326.0" cy="233.0" rx="2.0" ry="3.2" stroke-width="1.92" fill="none" transform="rotate(15.0 326.0 233.0)"/>
<rect x="335.8" y="234.5" width="5.6" height="7" rx="1" fill="#222" stroke-width="1.5" transform="rotate(10 338.6 238.0)"/>
<rect x="390.8" y="261.1" width="5.6" height="7" rx="1" fill="#222" stroke-width="1.5" transform="rotate(10 393.6 264.6)"/>
<line x1="341.0" y1="239.5" x2="391.0" y2="263.5" stroke-width="1.68" stroke-dasharray="12 3 3 3"/>
<path d="M337.6 243.5 L337.6 288.9 L393.6 265.0" stroke-width="1.86" fill="none" />
</g>
<g font-family="'Liberation Sans', sans-serif" fill="#111" text-anchor="middle" style="filter:blur(0.35px)">
<text x="162.0" y="73.8" font-size="18.0" font-weight="bold" textLength="11.8" lengthAdjust="spacingAndGlyphs">3</text>
<text x="376.2" y="22.0" font-size="19.0" font-weight="bold" textLength="23.9" lengthAdjust="spacingAndGlyphs">17</text>
<text x="365.3" y="48.0" font-size="19.0" font-weight="bold" textLength="11.8" lengthAdjust="spacingAndGlyphs">6</text>
<text x="390.5" y="81.5" font-size="18.0" font-weight="bold" textLength="11.8" lengthAdjust="spacingAndGlyphs">7</text>
<text x="276.4" y="124.4" font-size="18.0" font-weight="bold" textLength="11.8" lengthAdjust="spacingAndGlyphs">1</text>
<text x="514.0" y="40.4" font-size="18.0" font-weight="bold" textLength="23.8" lengthAdjust="spacingAndGlyphs">17</text>
<text x="662.6" y="16.3" font-size="18.0" font-weight="bold" textLength="24.8" lengthAdjust="spacingAndGlyphs">32</text>
<text x="696.5" y="38.6" font-size="18.0" font-weight="bold" textLength="11.5" lengthAdjust="spacingAndGlyphs">5</text>
<text x="709.4" y="62.5" font-size="18.0" font-weight="bold" textLength="11.7" lengthAdjust="spacingAndGlyphs">4</text>
<text x="548.2" y="84.0" font-size="18.0" font-weight="bold" textLength="11.8" lengthAdjust="spacingAndGlyphs">9</text>
<text x="497.0" y="95.3" font-size="18.0" font-weight="bold" textLength="21.7" lengthAdjust="spacingAndGlyphs">18</text>
<text x="528.3" y="95.6" font-size="16.1" font-weight="bold" textLength="22.5" lengthAdjust="spacingAndGlyphs">10</text>
<text x="544.5" y="122.3" font-size="18.0" font-weight="bold" textLength="11.5" lengthAdjust="spacingAndGlyphs">7</text>
<text x="607.4" y="132.2" font-size="18.0" font-weight="bold" textLength="22.1" lengthAdjust="spacingAndGlyphs">15</text>
<text x="682.5" y="113.0" font-size="18.0" font-weight="bold" textLength="22.3" lengthAdjust="spacingAndGlyphs">31</text>
<text x="712.9" y="135.1" font-size="18.0" font-weight="bold" textLength="24.8" lengthAdjust="spacingAndGlyphs">15</text>
<text x="764.3" y="40.0" font-size="19.5" fill="#181818" stroke="#181818" stroke-width="0.15" text-anchor="start" textLength="21.0" lengthAdjust="spacingAndGlyphs">36</text>
<text x="591.0" y="167.3" font-size="18.0" font-weight="bold" textLength="21.7" lengthAdjust="spacingAndGlyphs">19</text>
<text x="625.5" y="156.0" font-size="18.0" font-weight="bold" textLength="22.3" lengthAdjust="spacingAndGlyphs">21</text>
<text x="704.5" y="157.4" font-size="15.9" font-weight="bold" textLength="24.8" lengthAdjust="spacingAndGlyphs">20</text>
<text x="692.6" y="189.2" font-size="18.0" font-weight="bold" textLength="25.5" lengthAdjust="spacingAndGlyphs">11</text>
<text x="713.8" y="213.8" font-size="18.0" font-weight="bold" textLength="11.8" lengthAdjust="spacingAndGlyphs">9</text>
<text x="615.5" y="218.2" font-size="18.0" font-weight="bold" textLength="22.6" lengthAdjust="spacingAndGlyphs">19</text>
<text x="640.6" y="227.0" font-size="18.0" font-weight="bold" textLength="23.7" lengthAdjust="spacingAndGlyphs">16</text>
<text x="602.5" y="248.2" font-size="18.0" font-weight="bold" textLength="24.2" lengthAdjust="spacingAndGlyphs">23</text>
<text x="634.3" y="248.2" font-size="18.0" font-weight="bold" textLength="22.3" lengthAdjust="spacingAndGlyphs">24</text>
<text x="654.6" y="267.3" font-size="18.0" font-weight="bold" textLength="9.5" lengthAdjust="spacingAndGlyphs">2</text>
<text x="816.4" y="154.0" font-size="18.0" font-weight="bold" textLength="24.6" lengthAdjust="spacingAndGlyphs">33</text>
<text x="772.9" y="240.1" font-size="18.0" font-weight="bold" textLength="24.8" lengthAdjust="spacingAndGlyphs">14</text>
<text x="806.4" y="255.9" font-size="18.0" font-weight="bold" textLength="24.8" lengthAdjust="spacingAndGlyphs">22</text>
<text x="145.3" y="297.0" font-size="18.0" font-weight="bold" textLength="24.8" lengthAdjust="spacingAndGlyphs">12</text>
<text x="156.5" y="322.8" font-size="18.0" font-weight="bold" textLength="24.8" lengthAdjust="spacingAndGlyphs">25</text>
<text x="274.6" y="280.3" font-size="18.0" font-weight="bold" textLength="24.8" lengthAdjust="spacingAndGlyphs">15</text>
<text x="334.4" y="305.3" font-size="18.0" font-weight="bold" textLength="24.8" lengthAdjust="spacingAndGlyphs">15</text>
<text x="258.4" y="364.2" font-size="18.0" font-weight="bold" textLength="11.8" lengthAdjust="spacingAndGlyphs">8</text>
<text x="436.8" y="356.5" font-size="18.0" font-weight="bold" textLength="24.8" lengthAdjust="spacingAndGlyphs">15</text>
<text x="576.8" y="273.3" font-size="15.5" font-weight="bold" textLength="24.8" lengthAdjust="spacingAndGlyphs">16</text>
<text x="605.6" y="291.3" font-size="18.0" font-weight="bold" textLength="11.8" lengthAdjust="spacingAndGlyphs">9</text>
<text x="585.8" y="340.4" font-size="18.0" font-weight="bold" textLength="24.8" lengthAdjust="spacingAndGlyphs">14</text>
<text x="559.5" y="352.0" font-size="18.0" font-weight="bold" textLength="24.7" lengthAdjust="spacingAndGlyphs">27</text>
<text x="517.9" y="367.2" font-size="18.0" font-weight="bold" textLength="24.8" lengthAdjust="spacingAndGlyphs">12</text>
<text x="740.3" y="335.0" font-size="18.0" font-weight="bold" textLength="24.8" lengthAdjust="spacingAndGlyphs">13</text>
<text x="774.5" y="372.1" font-size="18.0" font-weight="bold" textLength="22.7" lengthAdjust="spacingAndGlyphs">16</text>
<text x="756.3" y="384.7" font-size="18.0" font-weight="bold" textLength="10.1" lengthAdjust="spacingAndGlyphs">9</text>
<text x="186.4" y="437.0" font-size="18.0" font-weight="bold" textLength="24.8" lengthAdjust="spacingAndGlyphs">29</text>
<text x="295.5" y="411.4" font-size="17.2" font-weight="bold" textLength="24.8" lengthAdjust="spacingAndGlyphs">30</text>
<text x="341.4" y="410.0" font-size="19.5" fill="#181818" stroke="#181818" stroke-width="0.15" text-anchor="start" textLength="21.7" lengthAdjust="spacingAndGlyphs">35</text>
<text x="405.0" y="419.4" font-size="17.0" font-weight="bold" textLength="24.8" lengthAdjust="spacingAndGlyphs">28</text>
<text x="427.5" y="437.0" font-size="18.0" font-weight="bold" textLength="24.8" lengthAdjust="spacingAndGlyphs">28</text>
<text x="455.4" y="450.1" font-size="18.0" font-weight="bold" textLength="22.5" lengthAdjust="spacingAndGlyphs">12</text>
<text x="431.3" y="473.3" font-size="19.5" fill="#181818" stroke="#181818" stroke-width="0.15" text-anchor="start" textLength="20.6" lengthAdjust="spacingAndGlyphs">34</text>
<text x="551.5" y="453.4" font-size="18.0" font-weight="bold" textLength="24.8" lengthAdjust="spacingAndGlyphs">22</text>
<text x="580.5" y="440.0" font-size="18.0" font-weight="bold" textLength="22.6" lengthAdjust="spacingAndGlyphs">14</text>
<text x="647.0" y="434.3" font-size="18.0" font-weight="bold" textLength="24.8" lengthAdjust="spacingAndGlyphs">13</text>
<text x="682.5" y="405.1" font-size="18.0" font-weight="bold" textLength="22.5" lengthAdjust="spacingAndGlyphs">14</text>
<text x="720.7" y="420.9" font-size="18.0" font-weight="bold" textLength="24.8" lengthAdjust="spacingAndGlyphs">22</text>
</g>
<g stroke="#ff0000" fill="none" stroke-width="1" shape-rendering="crispEdges">
<rect x="155.5" y="59.5" width="13.0" height="16.0"/>
<rect x="363.5" y="2.5" width="25.0" height="21.0"/>
<rect x="357.5" y="31.5" width="16.0" height="19.0"/>
<rect x="381.5" y="67.5" width="18.0" height="15.0"/>
<rect x="268.5" y="108.5" width="16.0" height="17.0"/>
<rect x="501.5" y="26.5" width="25.0" height="15.0"/>
<rect x="647.5" y="2.5" width="30.0" height="15.0"/>
<rect x="690.5" y="16.5" width="12.0" height="23.0"/>
<rect x="703.5" y="45.5" width="12.0" height="20.0"/>
<rect x="541.5" y="70.5" width="13.0" height="15.0"/>
<rect x="485.5" y="80.5" width="23.0" height="16.0"/>
<rect x="516.5" y="83.5" width="24.0" height="13.0"/>
<rect x="538.5" y="104.5" width="12.0" height="19.0"/>
<rect x="595.5" y="118.5" width="23.0" height="15.0"/>
<rect x="670.5" y="97.5" width="24.0" height="17.0"/>
<rect x="698.5" y="120.5" width="29.0" height="16.0"/>
<rect x="762.5" y="23.5" width="21.0" height="19.0"/>
<rect x="579.5" y="151.5" width="23.0" height="17.0"/>
<rect x="613.5" y="142.5" width="24.0" height="15.0"/>
<rect x="690.5" y="145.5" width="28.0" height="13.0"/>
<rect x="676.5" y="174.5" width="31.0" height="16.0"/>
<rect x="706.5" y="193.5" width="14.0" height="22.0"/>
<rect x="603.5" y="201.5" width="24.0" height="18.0"/>
<rect x="628.5" y="212.5" width="24.0" height="16.0"/>
<rect x="589.5" y="234.5" width="26.0" height="15.0"/>
<rect x="622.5" y="231.5" width="23.0" height="18.0"/>
<rect x="649.5" y="250.5" width="10.0" height="18.0"/>
<rect x="803.5" y="134.5" width="26.0" height="21.0"/>
<rect x="759.5" y="224.5" width="27.0" height="17.0"/>
<rect x="792.5" y="237.5" width="28.0" height="20.0"/>
<rect x="130.5" y="280.5" width="30.0" height="18.0"/>
<rect x="141.5" y="307.5" width="30.0" height="17.0"/>
<rect x="261.5" y="264.5" width="26.0" height="17.0"/>
<rect x="320.5" y="291.5" width="28.0" height="15.0"/>
<rect x="252.5" y="348.5" width="12.0" height="17.0"/>
<rect x="422.5" y="340.5" width="29.0" height="17.0"/>
<rect x="562.5" y="261.5" width="29.0" height="13.0"/>
<rect x="598.5" y="275.5" width="14.0" height="17.0"/>
<rect x="571.5" y="326.5" width="28.0" height="13.0"/>
<rect x="546.5" y="337.5" width="26.0" height="17.0"/>
<rect x="503.5" y="350.5" width="29.0" height="18.0"/>
<rect x="727.5" y="318.5" width="26.0" height="18.0"/>
<rect x="762.5" y="356.5" width="24.0" height="17.0"/>
<rect x="751.5" y="367.5" width="10.0" height="18.0"/>
<rect x="172.5" y="421.5" width="28.0" height="17.0"/>
<rect x="282.5" y="398.5" width="26.0" height="14.0"/>
<rect x="338.5" y="394.5" width="27.0" height="15.0"/>
<rect x="390.5" y="406.5" width="29.0" height="14.0"/>
<rect x="412.5" y="421.5" width="30.0" height="17.0"/>
<rect x="443.5" y="436.5" width="24.0" height="15.0"/>
<rect x="430.5" y="455.5" width="21.0" height="18.0"/>
<rect x="538.5" y="436.5" width="26.0" height="18.0"/>
<rect x="568.5" y="421.5" width="24.0" height="20.0"/>
<rect x="632.5" y="420.5" width="29.0" height="15.0"/>
<rect x="670.5" y="388.5" width="24.0" height="18.0"/>
<rect x="706.5" y="404.5" width="28.0" height="18.0"/>
</g>
</svg>
</body></html>
